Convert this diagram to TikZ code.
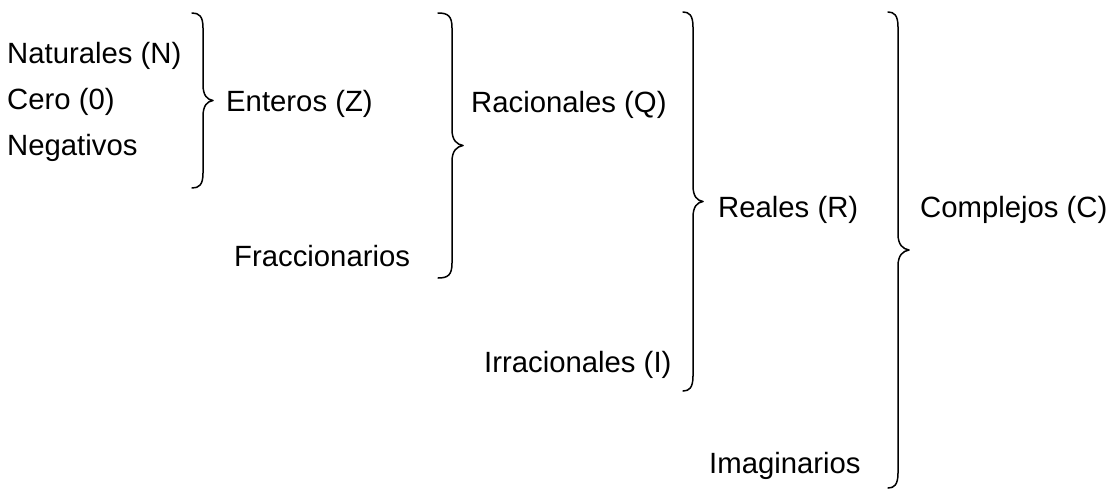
\documentclass[tikz,border=0pt]{standalone}
\usepackage{fontspec}
\setmainfont{Liberation Sans}
\newcommand\mybrace[5]{% left x, spine x, tip x, top y, bottom y
  \pgfmathsetmacro\ymid{(#4+#5)/2}
  \draw[bracestyle] (#1,#4) .. controls (#2-4,#4) and (#2,#4+3) .. (#2,#4+15)
    -- (#2,\ymid-16) .. controls (#2,\ymid-5) and (#3-6,\ymid-1) .. (#3,\ymid)
    .. controls (#3-6,\ymid+1) and (#2,\ymid+5) .. (#2,\ymid+16)
    -- (#2,#5-15) .. controls (#2,#5-3) and (#2-4,#5) .. (#1,#5);
}
\begin{document}
\begin{tikzpicture}[x=1pt,y=-1pt,
  lbl/.style={anchor=base west,inner sep=0pt,font=\fontsize{29.3}{35}\selectfont},
  bracestyle/.style={line width=1.5pt,line cap=round,line join=round}]
\useasboundingbox (0,0) rectangle (1113,491);
\node[lbl] (nat) at (7,63) {Naturales (N)};
\node[lbl] (cero) at (7,109) {Cero (0)};
\node[lbl] (neg) at (7,155) {Negativos};
\node[lbl] (ent) at (226,111) {Enteros (Z)};
\node[lbl] (rac) at (471,112) {Racionales (Q)};
\node[lbl] (frac) at (234,266) {Fraccionarios};
\node[lbl] (real) at (718,217) {Reales (R)};
\node[lbl] (comp) at (920,217) {Complejos (C)};
\node[lbl] (irr) at (484,372) {Irracionales (I)};
\node[lbl] (imag) at (709,473) {Imaginarios};
\mybrace{192}{203}{213}{13}{188}
\mybrace{438}{452}{463}{13}{278}
\mybrace{683}{693}{703}{12}{391}
\mybrace{888}{898}{909}{12}{488}
\end{tikzpicture}
\end{document}
